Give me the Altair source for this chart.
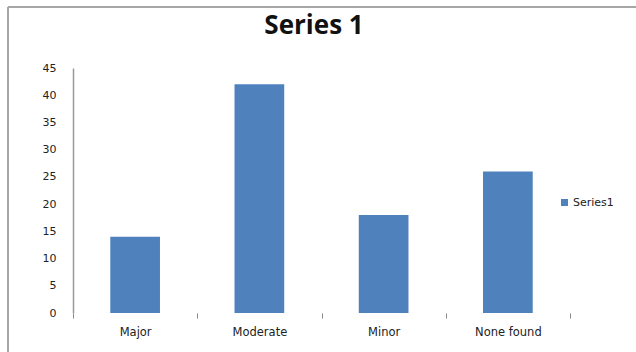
import altair as alt
import pandas as pd

categories = ["Major", "Moderate", "Minor", "None found"]
values = [14, 42, 18, 26]
series = ["Series1"] * 4
title_text = ["Series 1"]

df = pd.DataFrame({"category": categories, "value": values, "series": series})
tdf = pd.DataFrame({"t": title_text})

bars = alt.Chart(df).mark_bar(color="#4F81BD", width={"band": 0.4}).encode(
    x=alt.X("category:N", sort=categories,
            scale=alt.Scale(paddingInner=0, paddingOuter=0),
            axis=alt.Axis(title=None, labelAngle=0, domain=False, ticks=True,
                          tickBand="extent", tickSize=5, tickColor="#888888",
                          tickWidth=1, labelPadding=8, labelFontSize=11.5,
                          labelColor="#222222", labelFont="DejaVu Sans", grid=False)),
    y=alt.Y("value:Q", scale=alt.Scale(domain=[0, 45]),
            axis=alt.Axis(title=None, values=list(range(0, 50, 5)), tickSize=0,
                          labelPadding=17, labelFontSize=11, labelColor="#222222",
                          labelFont="DejaVu Sans", domainColor="#999999",
                          domainWidth=1.5, grid=False)),
    color=alt.Color("series:N", scale=alt.Scale(range=["#4F81BD"]),
                    legend=alt.Legend(title=None, orient="none", legendX=486, legendY=129,
                                      symbolType="square", symbolSize=49,
                                      symbolStrokeWidth=0, labelFontSize=11,
                                      labelFont="DejaVu Sans", labelColor="#222222",
                                      labelOffset=3)),
)

title = alt.Chart(tdf).mark_text(fontSize=26, font="Open Sans", fontWeight="bold",
                                 color="#111111", align="center", baseline="middle").encode(
    text="t:N", x=alt.value(241), y=alt.value(-42))

border_left = alt.Chart(df).mark_rule(color="#a6a6a6", strokeWidth=1.5).encode(
    x=alt.value(-65), y=alt.value(-61), y2=alt.value(290))
border_top = alt.Chart(df).mark_rule(color="#a6a6a6", strokeWidth=1.5).encode(
    x=alt.value(-65), x2=alt.value(570), y=alt.value(-61))

chart = alt.layer(border_left, border_top, title, bars).properties(
    width=497, height=245,
    padding={"left": 73, "top": 68, "right": 66, "bottom": 39},
    autosize=alt.AutoSizeParams(type="none"),
    background="white",
).configure_view(stroke=None)

chart.save("out.html", embed_options={"renderer": "svg", "actions": False})
